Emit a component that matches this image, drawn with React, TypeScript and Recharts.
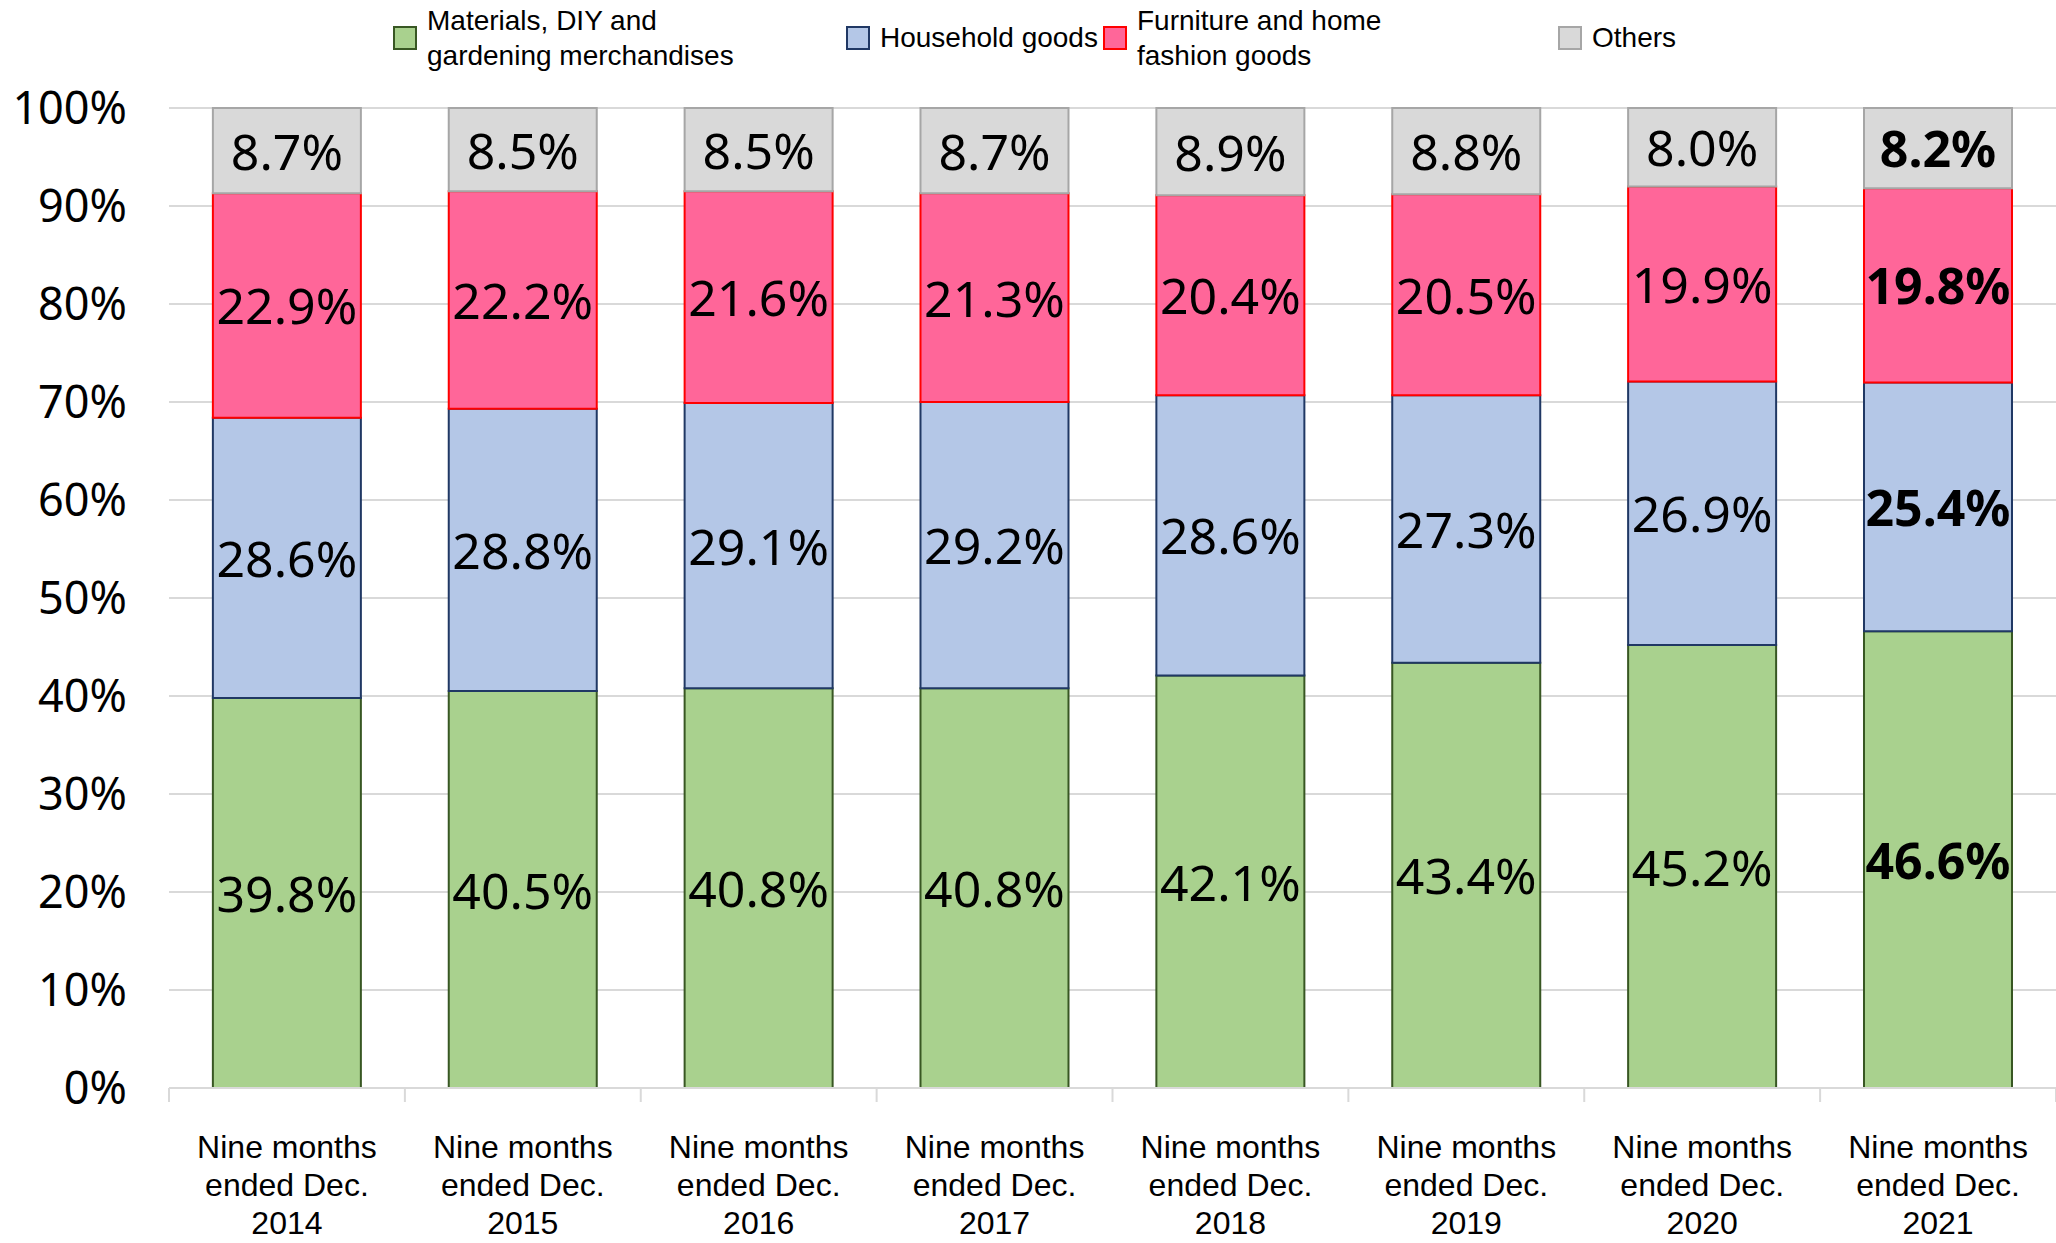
import { Bar, BarChart, CartesianGrid, LabelList, XAxis, YAxis } from 'recharts'

const years = ['2014', '2015', '2016', '2017', '2018', '2019', '2020', '2021']
const materials = [39.8, 40.5, 40.8, 40.8, 42.1, 43.4, 45.2, 46.6]
const household = [28.6, 28.8, 29.1, 29.2, 28.6, 27.3, 26.9, 25.4]
const furniture = [22.9, 22.2, 21.6, 21.3, 20.4, 20.5, 19.9, 19.8]
const others = [8.7, 8.5, 8.5, 8.7, 8.9, 8.8, 8.0, 8.2]
const yTicks = [0, 10, 20, 30, 40, 50, 60, 70, 80, 90, 100]

const CHART_W = 2056
const CHART_H = 1243
const YAXIS_W = 169
const GRID_COLOR = '#D9D9D9'
const LABEL_FONT = '"Noto Sans", sans-serif'
const TEXT_FONT = '"Liberation Sans", Arial, sans-serif'

const series = [
  { key: 'materials', name: ['Materials, DIY and', 'gardening merchandises'], fill: '#A9D18E', stroke: '#385723' },
  { key: 'household', name: ['Household goods'], fill: '#B4C7E7', stroke: '#203864' },
  { key: 'furniture', name: ['Furniture and home', 'fashion goods'], fill: '#FF6699', stroke: '#FF0000' },
  { key: 'others', name: ['Others'], fill: '#D9D9D9', stroke: '#A6A6A6' },
]

const data = years.map((year, i) => ({
  year,
  materials: materials[i],
  household: household[i],
  furniture: furniture[i],
  others: others[i],
}))

// legend sits in the band above the plot, one entry per series
const legendX = [393, 846, 1103, 1558]

/** Segment value, bold on the latest period like the source deck. */
function SegmentLabel(props: any) {
  const { x, y, width, height, value, index } = props
  const bold = index === years.length - 1
  return (
    <text
      x={x + width / 2}
      y={y + height / 2}
      textAnchor="middle"
      dominantBaseline="central"
      fontFamily={LABEL_FONT}
      fontSize={50}
      fontWeight={bold ? 700 : 400}
      fill="#000"
    >
      {`${Number(value).toFixed(1)}%`}
    </text>
  )
}

/** Three-line period label plus Excel-style tick marks on the category edges. */
function PeriodTick(props: any) {
  const { x, y, payload, index, width, visibleTicksCount } = props
  const count = visibleTicksCount || years.length
  const half = (width || CHART_W - YAXIS_W) / count / 2
  const lines = ['Nine months', 'ended Dec.', payload.value]
  return (
    <g>
      <line x1={x - half} y1={y} x2={x - half} y2={y + 14} stroke={GRID_COLOR} strokeWidth={2} />
      {index === count - 1 && (
        <line x1={x + half} y1={y} x2={x + half} y2={y + 14} stroke={GRID_COLOR} strokeWidth={2} />
      )}
      <text textAnchor="middle" fontFamily={TEXT_FONT} fontSize={32} fill="#000">
        {lines.map((line, i) => (
          <tspan key={i} x={x} y={y + 70 + i * 38}>
            {line}
          </tspan>
        ))}
      </text>
    </g>
  )
}

function LegendOverlay() {
  return (
    <>
      {series.map((s, i) => (
        <div key={s.key}>
          <div
            style={{
              position: 'absolute',
              left: legendX[i],
              top: 26,
              width: 20,
              height: 20,
              background: s.fill,
              border: `2px solid ${s.stroke}`,
            }}
          />
          <div
            style={{
              position: 'absolute',
              left: legendX[i] + 34,
              top: s.name.length > 1 ? 3 : 20,
              fontFamily: TEXT_FONT,
              fontSize: 28,
              lineHeight: '35px',
              color: '#000',
              whiteSpace: 'nowrap',
            }}
          >
            {s.name.map((line) => (
              <div key={line}>{line}</div>
            ))}
          </div>
        </div>
      ))}
    </>
  )
}

export default function App() {
  return (
    <div
      style={{
        position: 'absolute',
        left: 0,
        top: 0,
        width: CHART_W,
        height: CHART_H,
        background: '#fff',
        overflow: 'hidden',
      }}
    >
      <BarChart
        width={CHART_W}
        height={CHART_H}
        data={data}
        margin={{ top: 108, right: 0, bottom: 0, left: 0 }}
        barCategoryGap="18.6%"
      >
        <CartesianGrid vertical={false} stroke={GRID_COLOR} strokeWidth={2} />
        <XAxis
          dataKey="year"
          height={155}
          interval={0}
          tickLine={false}
          tickSize={0}
          tickMargin={0}
          axisLine={{ stroke: GRID_COLOR, strokeWidth: 2 }}
          tick={<PeriodTick />}
        />
        <YAxis
          width={YAXIS_W}
          domain={[0, 100]}
          ticks={yTicks}
          interval={0}
          axisLine={false}
          tickLine={false}
          tickSize={0}
          tickMargin={42}
          tickFormatter={(v: number) => `${v}%`}
          tick={{ fill: '#000', fontSize: 45, fontFamily: LABEL_FONT }}
        />
        {series.map((s) => (
          <Bar
            key={s.key}
            dataKey={s.key}
            stackId="share"
            fill={s.fill}
            stroke={s.stroke}
            strokeWidth={2}
            isAnimationActive={false}
          >
            <LabelList dataKey={s.key} content={<SegmentLabel />} />
          </Bar>
        ))}
      </BarChart>
      <LegendOverlay />
    </div>
  )
}
